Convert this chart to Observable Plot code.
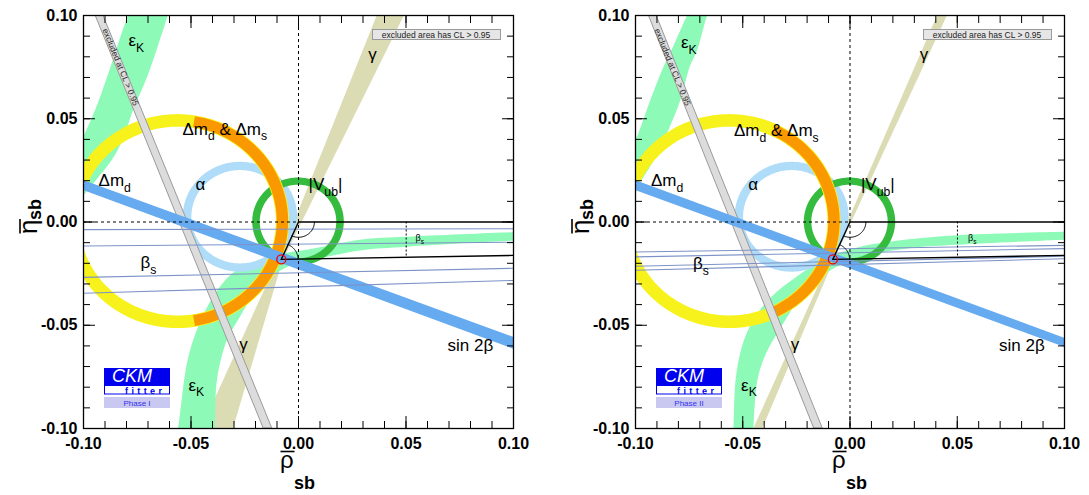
<!DOCTYPE html>
<html><head><meta charset="utf-8">
<script src="https://cdn.jsdelivr.net/npm/d3@7"></script>
<script src="https://cdn.jsdelivr.net/npm/@observablehq/plot@0.6"></script>
<style>
body{margin:0;background:#fff;font-family:"Liberation Sans",Arial,Helvetica,sans-serif;}
#wrap{position:relative;width:1089px;height:495px;overflow:hidden;}
.panel{position:absolute;top:0;}
#over{position:absolute;left:0;top:0;pointer-events:none;}
</style></head><body><div id="wrap"></div>
<script>
// ---------- axis ticks ----------
const tickMajor = [-0.1, -0.05, 0, 0.05, 0.1];
const tickMinor = [-0.1,-0.09,-0.08,-0.07,-0.06,-0.05,-0.04,-0.03,-0.02,-0.01,0,0.01,0.02,0.03,0.04,0.05,0.06,0.07,0.08,0.09,0.1];

// ---------- unitarity triangle (rho, eta) ----------
const triangle = [[0, 0], [-0.0080, -0.0181], [1, 0]];
const betasMarkRho = [0.0501];

// ---------- ring constraints: [centre rho, centre eta, inner r, outer r] ----------
const dmdRing   = [-0.0560, 0.0002, 0.0457, 0.0518];
const dmdsRing  = [-0.0560, 0.0002, 0.0461, 0.0514];
const dmdsArcI  = [-81, 81];
const dmdsArcII = [-68, 65];
const alphaRing = [-0.0270, 0.0023, 0.0226, 0.0266];
const vubRing   = [0.0, 0.0, 0.0178, 0.0213];

// ---------- sin 2beta band: eta (low, high) at rho = -0.1 and +0.1 ----------
const sin2bRho  = [-0.1, 0.1];
const sin2bLoI  = [0.0153, -0.0616];
const sin2bHiI  = [0.0201, -0.0558];
const sin2bLoII = [0.0153, -0.0607];
const sin2bHiII = [0.0201, -0.0563];

// ---------- excluded (grey) band: rho (low, high) at eta = +0.1 and -0.1 ----------
const exclEta   = [0.1, -0.1];
const exclLoI   = [-0.0944, -0.0162];
const exclHiI   = [-0.0908, -0.0122];
const exclLoII  = [-0.0938, -0.0167];
const exclHiII  = [-0.0902, -0.0127];

// ---------- gamma wedges: rho (low, high) at the apex and at the frame edge ----------
const gammaUpEtaI  = [-0.0181, 0.1];
const gammaUpLoI   = [-0.0088, 0.0367];
const gammaUpHiI   = [-0.0068, 0.0493];
const gammaDnEtaI  = [-0.0181, -0.1];
const gammaDnLoI   = [-0.0092, -0.0450];
const gammaDnHiI   = [-0.0070, -0.0302];
const gammaUpEtaII = [-0.0181, 0.1];
const gammaUpLoII  = [-0.0085, 0.0409];
const gammaUpHiII  = [-0.0072, 0.0455];
const gammaDnEtaII = [-0.0181, -0.1];
const gammaDnLoII  = [-0.0090, -0.0448];
const gammaDnHiII  = [-0.0072, -0.0406];

// ---------- epsilon_K bands ----------
const epsKUpEtaI  = [0.105, 0.1, 0.085, 0.07, 0.054, 0.04, 0.03, 0.02, 0.01];
const epsKUpLoI   = [-0.0772, -0.0791, -0.0840, -0.0888, -0.0944, -0.1005, -0.1060, -0.1120, -0.1180];
const epsKUpHiI   = [-0.0590, -0.0605, -0.0652, -0.0702, -0.0767, -0.0814, -0.0865, -0.0940, -0.1020];
const epsKUpEtaII = [0.105, 0.1, 0.083, 0.0749, 0.0589, 0.0429, 0.03, 0.02];
const epsKUpLoII  = [-0.0735, -0.0757, -0.0830, -0.0867, -0.0928, -0.0984, -0.1040, -0.1100];
const epsKUpHiII  = [-0.0640, -0.0663, -0.0710, -0.0745, -0.0788, -0.0850, -0.0910, -0.0970];
const epsKDnInI  = [[-0.0570,-0.105],[-0.0558,-0.0999],[-0.0516,-0.0684],[-0.0470,-0.0524],[-0.0395,-0.0364],[-0.0302,-0.0248],[-0.0177,-0.0185],[-0.0070,-0.0155],[0.0040,-0.0137],[0.0288,-0.0088],[0.0507,-0.0074],[0.1,-0.0052],[0.105,-0.0050]];
const epsKDnOutI = [[-0.0390,-0.105],[-0.0386,-0.0999],[-0.0377,-0.0766],[-0.0330,-0.0573],[-0.0270,-0.0461],[-0.0210,-0.0360],[-0.0153,-0.0290],[-0.0060,-0.0225],[0.0040,-0.0194],[0.0288,-0.0140],[0.0507,-0.0122],[0.1,-0.0093],[0.105,-0.0091]];
const epsKDnInII  = [[-0.0545,-0.105],[-0.0541,-0.0999],[-0.0531,-0.0766],[-0.0500,-0.0600],[-0.0450,-0.0480],[-0.0370,-0.0370],[-0.0250,-0.0270],[-0.0130,-0.0190],[0.0040,-0.0125],[0.0288,-0.0085],[0.0503,-0.0066],[0.1,-0.0050],[0.105,-0.0049]];
const epsKDnOutII = [[-0.0452,-0.105],[-0.0448,-0.0999],[-0.0429,-0.0766],[-0.0390,-0.0640],[-0.0330,-0.0530],[-0.0250,-0.0400],[-0.0150,-0.0280],[-0.0040,-0.0210],[0.0080,-0.0165],[0.0288,-0.0128],[0.0503,-0.0113],[0.1,-0.0088],[0.105,-0.0086]];

// ---------- beta_s lines: eta at rho = -0.1 and +0.1 ----------
const betasRho     = [-0.1, 0.1];
const betasLeftI   = [-0.0037, -0.0116, -0.0268, -0.0345];
const betasRightI  = [-0.0033, -0.0098, -0.0224, -0.0283];
const betasLeftII  = [-0.0145, -0.0169, -0.0214, -0.0234];
const betasRightII = [-0.0113, -0.0129, -0.0166, -0.0178];

// ---------- labels ----------
const labelsI = [
  {x:-0.0791, y:0.0880, t:"ε_{K}", a:"start", s:17},
  {x:-0.0540, y:0.0450, t:"Δm_{d} & Δm_{s}", a:"start", s:17},
  {x:-0.0930, y:0.0200, t:"Δm_{d}", a:"start", s:17},
  {x:-0.0456, y:0.0182, t:"α", a:"middle", s:17},
  {x:0.0047, y:0.0182, t:"|V_{ub}|", a:"start", s:17},
  {x:0.0344, y:0.0810, t:"γ", a:"middle", s:17},
  {x:-0.0256, y:-0.0592, t:"γ", a:"middle", s:17},
  {x:-0.0735, y:-0.0195, t:"β_{s}", a:"start", s:17},
  {x:-0.0512, y:-0.0790, t:"ε_{K}", a:"start", s:17},
  {x:0.0693, y:-0.0597, t:"sin 2β", a:"start", s:17},
  {x:0.0544, y:-0.0079, t:"β_{s}", a:"start", s:9}
];
const labelsII = [
  {x:-0.0788, y:0.0870, t:"ε_{K}", a:"start", s:17},
  {x:-0.0541, y:0.0444, t:"Δm_{d} & Δm_{s}", a:"start", s:17},
  {x:-0.0928, y:0.0200, t:"Δm_{d}", a:"start", s:17},
  {x:-0.0452, y:0.0182, t:"α", a:"middle", s:17},
  {x:0.0051, y:0.0182, t:"|V_{ub}|", a:"start", s:17},
  {x:0.0345, y:0.0810, t:"γ", a:"middle", s:17},
  {x:-0.0256, y:-0.0592, t:"γ", a:"middle", s:17},
  {x:-0.0732, y:-0.0200, t:"β_{s}", a:"start", s:17},
  {x:-0.0508, y:-0.0790, t:"ε_{K}", a:"start", s:17},
  {x:0.0695, y:-0.0597, t:"sin 2β", a:"start", s:17},
  {x:0.0550, y:-0.0079, t:"β_{s}", a:"start", s:9}
];
const exclText = [{x:-0.0828, y:0.075, t:"excluded at CL > 0.95"}];

// ---------- helpers ----------
const rad = Math.PI / 180;
function ringRows(ring, a0 = 0, a1 = 360, n = 240) {
  const [cx, cy, r1, r2] = ring;
  return d3.range(n + 1).map(i => {
    const a = (a0 + (a1 - a0) * i / n) * rad;
    return {x1: cx + r2 * Math.cos(a), y1: cy + r2 * Math.sin(a), x2: cx + r1 * Math.cos(a), y2: cy + r1 * Math.sin(a)};
  });
}
const rowsY = (eta, lo, hi) => eta.map((e, i) => ({y: e, x1: lo[i], x2: hi[i]}));
const rowsX = (rho, lo, hi) => rho.map((r, i) => ({x: r, y1: lo[i], y2: hi[i]}));
const rowsPair = (a, b) => a.map((p, i) => ({x1: p[0], y1: p[1], x2: b[i][0], y2: b[i][1]}));
const lineRows = (rho, left, right) => left.map((l, i) => ({x1: rho[0], y1: l, x2: rho[1], y2: right[i]}));
function arcRows(c, a0, a1, r, n = 40) {
  return d3.range(n + 1).map(i => {
    const a = a0 + (a1 - a0) * i / n;
    return {x: c[0] + r * Math.cos(a), y: c[1] + r * Math.sin(a)};
  });
}

const C = {
  gamma: "#dcdcb4", epsK: "#8efab8", alpha: "#afdcf8", vub: "#35bb3e",
  yellow: "#f8f21c", orange: "#fa9800", grey: "#dcdcdc", greyEdge: "#9a9a9a",
  sin2b: "#66aaf0", betas: "#7d93c8"
};
const FONT = '"Liberation Sans", Arial, Helvetica, sans-serif';

function panel(cfg) {
  const [O, A, B] = triangle;
  const aO0 = Math.atan2(A[1] - O[1], A[0] - O[0]);
  const aA0 = Math.atan2(O[1] - A[1], O[0] - A[0]);
  const aA1 = Math.atan2(B[1] - A[1], B[0] - A[0]);
  const yMark = A[1] * (B[0] - betasMarkRho[0]) / (B[0] - A[0]);
  const clip = true;
  const ringMark = (rows, fill) => Plot.area(rows, {x1: "x1", y1: "y1", x2: "x2", y2: "y2", fill, clip});
  return Plot.plot({
    width: cfg.width, height: 495,
    marginLeft: cfg.ml, marginRight: cfg.mr, marginTop: 15, marginBottom: 67,
    x: {domain: [-0.1, 0.1]}, y: {domain: [-0.1, 0.1]},
    style: {fontFamily: FONT, background: "transparent", overflow: "visible"},
    marks: [
      Plot.areaX(rowsY(cfg.gUpEta, cfg.gUpLo, cfg.gUpHi), {y: "y", x1: "x1", x2: "x2", fill: C.gamma, clip}),
      Plot.areaX(rowsY(cfg.gDnEta, cfg.gDnLo, cfg.gDnHi), {y: "y", x1: "x1", x2: "x2", fill: C.gamma, clip}),
      Plot.areaX(rowsY(cfg.eUpEta, cfg.eUpLo, cfg.eUpHi), {y: "y", x1: "x1", x2: "x2", fill: C.epsK, curve: "catmull-rom", clip}),
      Plot.area(rowsPair(cfg.eDnIn, cfg.eDnOut), {x1: "x1", y1: "y1", x2: "x2", y2: "y2", fill: C.epsK, curve: "catmull-rom", clip}),
      ringMark(ringRows(alphaRing), C.alpha),
      ringMark(ringRows(vubRing), C.vub),
      ringMark(ringRows(dmdRing), C.yellow),
      ringMark(ringRows(dmdsRing, cfg.arc[0], cfg.arc[1]), C.orange),
      Plot.areaX(rowsY(exclEta, cfg.xLo, cfg.xHi), {y: "y", x1: "x1", x2: "x2", fill: C.grey, stroke: C.greyEdge, strokeWidth: 1, clip}),
      Plot.text(exclText, {x: "x", y: "y", text: "t", rotate: 67.7, fontSize: 8.5, fill: "#222", textAnchor: "middle"}),
      Plot.areaY(rowsX(sin2bRho, cfg.sLo, cfg.sHi), {x: "x", y1: "y1", y2: "y2", fill: C.sin2b, clip}),
      Plot.link(lineRows(betasRho, cfg.bL, cfg.bR), {x1: "x1", y1: "y1", x2: "x2", y2: "y2", stroke: C.betas, strokeWidth: 1.1, clip}),
      Plot.ruleX([O[0]], {stroke: "black", strokeDasharray: "3,3", strokeWidth: 1}),
      Plot.ruleY([O[1]], {x1: -0.1, x2: O[0], stroke: "black", strokeDasharray: "3,3", strokeWidth: 1}),
      Plot.line([O, A], {stroke: "black", strokeWidth: 1.4, clip}),
      Plot.line([A, B], {stroke: "black", strokeWidth: 1.4, clip}),
      Plot.line([O, B], {stroke: "black", strokeWidth: 1.4, clip}),
      Plot.line(arcRows(O, 0, aO0, 0.0074), {x: "x", y: "y", stroke: "black", strokeWidth: 1, clip}),
      Plot.line(arcRows(A, aA0, aA1, 0.0078), {x: "x", y: "y", stroke: "black", strokeWidth: 1, clip}),
      Plot.ruleX(betasMarkRho, {y1: 0, y2: yMark, stroke: "black", strokeDasharray: "2,2", strokeWidth: 1}),
      Plot.dot([A], {x: d => d[0], y: d => d[1], r: 4.5, stroke: "#e00", strokeWidth: 1.3, fill: "none"}),
      Plot.text(cfg.labels.filter(d => d.a === "start"), {x: "x", y: "y", text: "t", textAnchor: "start", fontSize: "s", fill: "black"}),
      Plot.text(cfg.labels.filter(d => d.a === "middle"), {x: "x", y: "y", text: "t", textAnchor: "middle", fontSize: "s", fill: "black"}),
      Plot.frame({stroke: "black", strokeWidth: 1.3}),
      Plot.axisX(tickMinor, {anchor: "bottom", tickSize: -7, fill: "none", label: null}),
      Plot.axisX(tickMinor, {anchor: "top", tickSize: -7, fill: "none", label: null}),
      Plot.axisY(tickMinor, {anchor: "left", tickSize: -7, fill: "none", label: null}),
      Plot.axisY(tickMinor, {anchor: "right", tickSize: -7, fill: "none", label: null}),
      Plot.axisX(tickMajor, {anchor: "bottom", tickSize: -12, fill: "none", label: null}),
      Plot.axisX(tickMajor, {anchor: "top", tickSize: -12, fill: "none", label: null}),
      Plot.axisY(tickMajor, {anchor: "left", tickSize: -12, fill: "none", label: null}),
      Plot.axisY(tickMajor, {anchor: "right", tickSize: -12, fill: "none", label: null}),
      Plot.axisX(tickMajor, {anchor: "bottom", tickSize: 0, tickPadding: 9, tickFormat: d => d.toFixed(2), fontSize: 16, fontWeight: "bold", label: null}),
      Plot.axisY(tickMajor, {anchor: "left", tickSize: 0, tickPadding: 6, tickFormat: d => d.toFixed(2), fontSize: 16, fontWeight: "bold", label: null})
    ]
  });
}

function subscriptify(svg) {
  const ns = "http://www.w3.org/2000/svg";
  svg.querySelectorAll("text").forEach(t => {
    const s = t.textContent;
    if (!s.includes("_{")) return;
    const fs = parseFloat(getComputedStyle(t).fontSize) || 17;
    const parts = s.split(/(_\{[^}]*\})/);
    t.textContent = "";
    let shifted = false;
    for (const p of parts) {
      if (!p) continue;
      const ts = document.createElementNS(ns, "tspan");
      if (p.startsWith("_{")) {
        ts.textContent = p.slice(2, -1);
        ts.setAttribute("font-size", (fs * 0.72).toFixed(1));
        ts.setAttribute("dy", (fs * 0.34).toFixed(1));
        shifted = true;
      } else {
        ts.textContent = p;
        if (shifted) { ts.setAttribute("dy", (-fs * 0.34).toFixed(1)); shifted = false; }
      }
      t.appendChild(ts);
    }
  });
}

const wrap = document.getElementById("wrap");
const panels = [
  {left: 0, width: 544, ml: 83, mr: 31, arc: dmdsArcI,
   gUpEta: gammaUpEtaI, gUpLo: gammaUpLoI, gUpHi: gammaUpHiI, gDnEta: gammaDnEtaI, gDnLo: gammaDnLoI, gDnHi: gammaDnHiI,
   eUpEta: epsKUpEtaI, eUpLo: epsKUpLoI, eUpHi: epsKUpHiI, eDnIn: epsKDnInI, eDnOut: epsKDnOutI,
   xLo: exclLoI, xHi: exclHiI, sLo: sin2bLoI, sHi: sin2bHiI, bL: betasLeftI, bR: betasRightI, labels: labelsI},
  {left: 544, width: 545, ml: 91, mr: 25, arc: dmdsArcII,
   gUpEta: gammaUpEtaII, gUpLo: gammaUpLoII, gUpHi: gammaUpHiII, gDnEta: gammaDnEtaII, gDnLo: gammaDnLoII, gDnHi: gammaDnHiII,
   eUpEta: epsKUpEtaII, eUpLo: epsKUpLoII, eUpHi: epsKUpHiII, eDnIn: epsKDnInII, eDnOut: epsKDnOutII,
   xLo: exclLoII, xHi: exclHiII, sLo: sin2bLoII, sHi: sin2bHiII, bL: betasLeftII, bR: betasRightII, labels: labelsII}
];
for (const p of panels) {
  const svg = panel(p);
  svg.classList.add("panel");
  svg.style.left = p.left + "px";
  wrap.appendChild(svg);
  subscriptify(svg);
}

// ---------- overlay: axis titles, logo, legend ----------
const phases = ["Phase I", "Phase II"];
let ov = `<svg id="over" width="1089" height="495" xmlns="http://www.w3.org/2000/svg" font-family='${FONT}'>`;
[0, 552].forEach((dx, k) => {
  const lx = k ? 371 : 372;
  ov += `<g transform="translate(${dx},0)">
    <text x="280" y="467.5" font-size="24">ρ</text>
    <line x1="280.5" x2="294.5" y1="451.5" y2="451.5" stroke="black" stroke-width="1.6"/>
    <text x="294" y="489" font-size="18" font-weight="bold">sb</text>
    <g transform="translate(37,234) rotate(-90)">
      <text x="0" y="0" font-size="26">η</text>
      <line x1="0.5" x2="15" y1="-17" y2="-17" stroke="black" stroke-width="1.6"/>
      <text x="14" y="4" font-size="18" font-weight="bold">sb</text>
    </g>
    <rect x="104" y="368" width="66" height="17" fill="#0000ee"/>
    <text x="112" y="381.8" font-size="18" font-style="italic" fill="white">CKM</text>
    <rect x="104.5" y="385.5" width="65" height="8.5" fill="white" stroke="#0000ee" stroke-width="1"/>
    <text x="125" y="394" font-size="9" font-weight="bold" letter-spacing="3.4" fill="#0000ee">fitter</text>
    <rect x="104" y="397" width="66" height="11" fill="#c8c8f0"/>
    <text x="137" y="405.8" font-size="8" text-anchor="middle" fill="#3333ee">${phases[k]}</text>
    <rect x="${lx}.5" y="29.5" width="128" height="10" fill="#e6e6e6" stroke="#9a9a9a" stroke-width="1"/>
    <text x="${lx + 64}" y="37.6" font-size="8.5" text-anchor="middle" fill="#222">excluded area has CL &gt; 0.95</text>
  </g>`;
});
ov += `</svg>`;
wrap.insertAdjacentHTML("beforeend", ov);
</script>
</body></html>
